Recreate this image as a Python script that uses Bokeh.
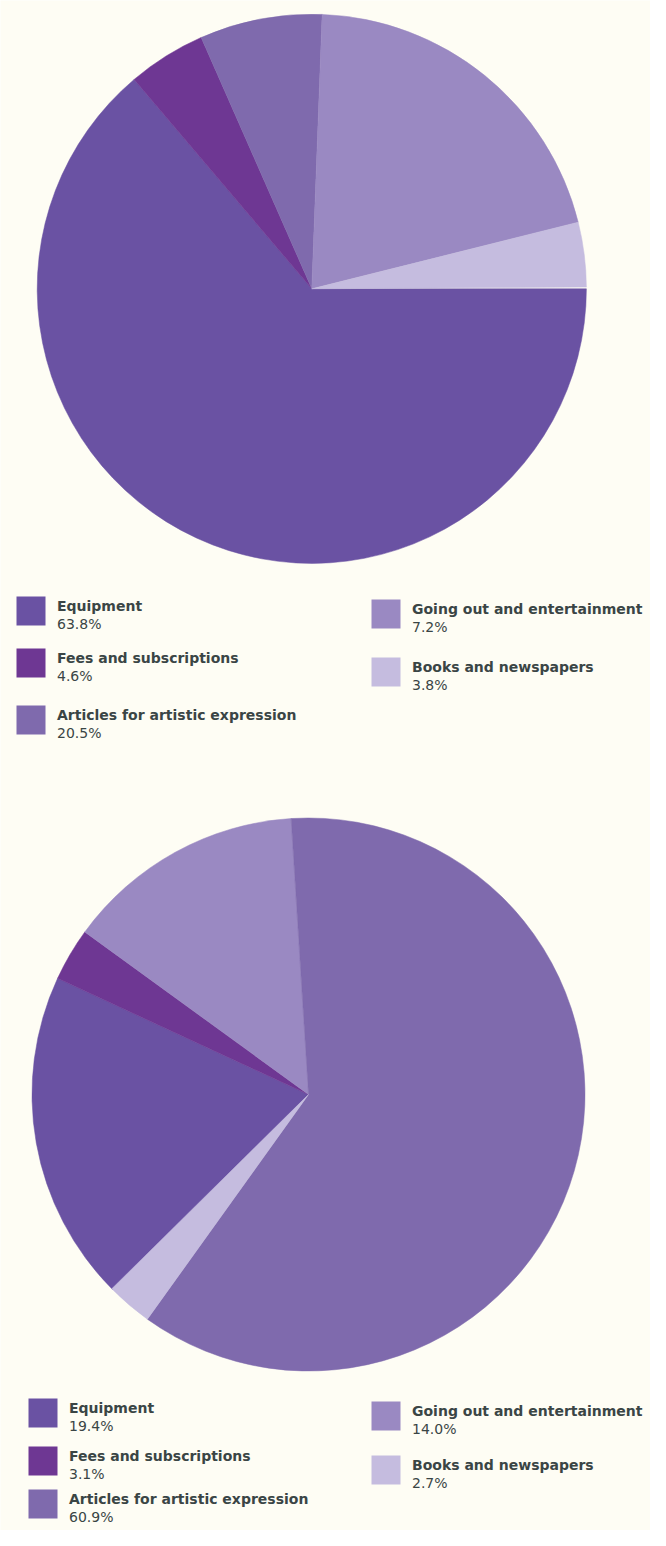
import math
from bokeh.plotting import figure
from bokeh.models import Range1d, ColumnDataSource
from bokeh.core.properties import value
from bokeh.embed import file_html
from bokeh.resources import INLINE

# ---------------- data ----------------
categories = [
    "Equipment",
    "Fees and subscriptions",
    "Articles for artistic expression",
    "Going out and entertainment",
    "Books and newspapers",
]
values_1 = [63.8, 4.6, 20.5, 7.2, 3.8]
values_2 = [19.4, 3.1, 60.9, 14.0, 2.7]
legend_colors = ["#6A52A3", "#6E3793", "#7F6AAD", "#9A89C2", "#C5BCDF"]

# slices are drawn clockwise in this category order
slice_order = [0, 1, 3, 2, 4]
# colours of the slices as drawn (in slice_order)
slice_colors_1 = ["#6A52A3", "#6E3793", "#7F6AAD", "#9A89C2", "#C5BCDF"]
slice_colors_2 = ["#6A52A3", "#6E3793", "#9A89C2", "#7F6AAD", "#C5BCDF"]
start_deg_1 = 0.0
start_deg_2 = 225.0

# ---------------- layout ----------------
W, H = 650, 1530
BG = "#FEFDF4"
TXT = "#3A4545"
FONT = "DejaVu Sans"
FS = "14px"


def px(x):
    return x


def py(y):
    return H - y


p = figure(width=W, height=H, x_range=Range1d(0, W), y_range=Range1d(0, H),
           output_backend="svg", toolbar_location=None, min_border=0,
           x_axis_type=None, y_axis_type=None)
p.grid.visible = False
p.outline_line_color = None
p.background_fill_color = BG
p.border_fill_color = BG


def draw_pie(values, colors, start_deg, cx, cy, r):
    a = math.radians(start_deg)
    starts, ends = [], []
    for idx in slice_order:
        e = a - math.radians(values[idx] * 3.6)
        starts.append(e)
        ends.append(a)
        a = e
    src = ColumnDataSource(dict(x=[px(cx)] * len(starts), y=[py(cy)] * len(starts),
                                s=starts, e=ends, c=colors))
    p.wedge(x="x", y="y", radius=r, start_angle="s", end_angle="e",
            direction="anticlock", fill_color="c", line_color="c",
            line_width=0.5, source=src)


def draw_legend(values, slots):
    lefts, rights, tops, bottoms = [], [], [], []
    lx, ly, vy, labels, vals = [], [], [], [], []
    for i, (sx, sy) in enumerate(slots):
        lefts.append(px(sx))
        rights.append(px(sx + 29))
        tops.append(py(sy))
        bottoms.append(py(sy + 29))
        lx.append(px(sx + 40.5))
        ly.append(py(sy + 9.5))
        vy.append(py(sy + 27.5))
        labels.append(categories[i])
        vals.append(f"{values[i]:.1f}%")
    p.quad(left=lefts, right=rights, top=tops, bottom=bottoms,
           fill_color=legend_colors, line_color=None)
    p.text(x=lx, y=ly, text=labels, text_font=value(FONT), text_font_style="bold",
           text_font_size=FS, text_color=TXT, text_baseline="alphabetic",
           text_align="left")
    p.text(x=lx, y=vy, text=vals, text_font=value(FONT), text_font_style="normal",
           text_font_size=FS, text_color=TXT, text_baseline="alphabetic",
           text_align="left")


draw_pie(values_1, slice_colors_1, start_deg_1, 311.3, 288.3, 274.6)
draw_pie(values_2, slice_colors_2, start_deg_2, 308.0, 1094.0, 276.5)

draw_legend(values_1, [(16, 596), (16, 648), (16, 705), (371, 599), (371, 657)])
draw_legend(values_2, [(28, 1398), (28, 1446), (28, 1489), (371, 1401), (371, 1455)])

open("out.html", "w").write(file_html(p, INLINE))
